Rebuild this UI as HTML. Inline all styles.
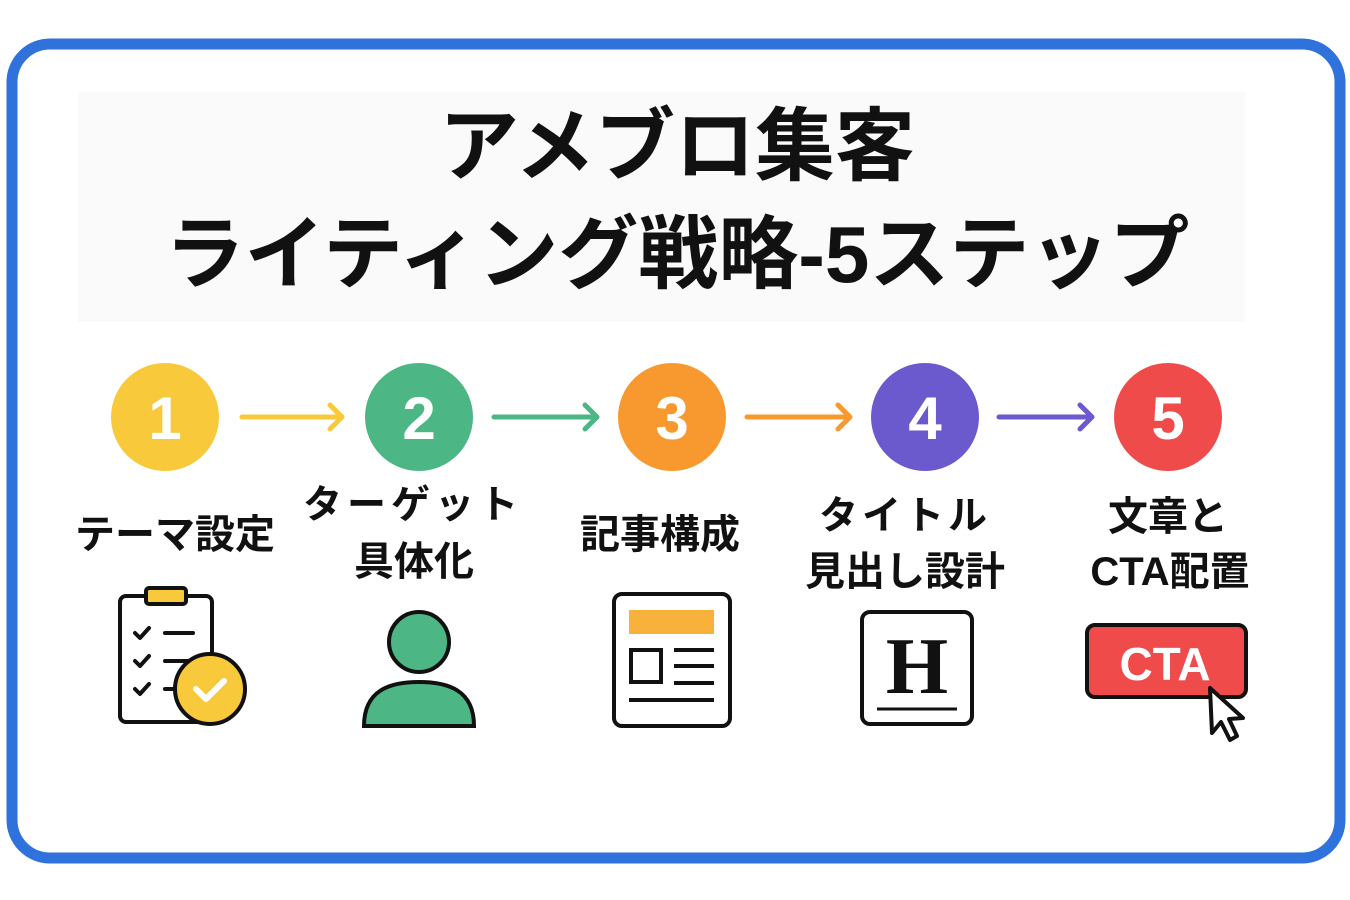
<!DOCTYPE html>
<html><head><meta charset="utf-8"><style>
body{margin:0;width:1350px;height:900px;background:#fff;overflow:hidden;position:relative;font-family:"Liberation Sans","Noto Sans CJK JP",sans-serif}
.t{position:absolute;font-weight:bold;color:#111;white-space:nowrap;transform:translate(-50%,-50%)}
</style></head><body>
<svg width="1350" height="900" style="position:absolute;left:0;top:0">
<rect x="12" y="44" width="1328" height="814" rx="38" fill="#fff" stroke="#2f72dc" stroke-width="11"/>
<rect x="78" y="92" width="1167" height="230" fill="#fafafa"/>
<g stroke-width="5" fill="none" stroke-linecap="round" stroke-linejoin="round">
<path d="M242 417H340M330 405L342 417L330 429" stroke="#f8c93a"/>
<path d="M494 417H595M585 405L597 417L585 429" stroke="#4cb784"/>
<path d="M747 417H848M838 405L850 417L838 429" stroke="#f8992f"/>
<path d="M999 417H1090M1080 405L1092 417L1080 429" stroke="#6a5acd"/>
</g>
<circle cx="165" cy="417" r="54" fill="#f8c93a"/>
<circle cx="419" cy="417" r="54" fill="#4cb784"/>
<circle cx="672" cy="417" r="54" fill="#f8992f"/>
<circle cx="925" cy="417" r="54" fill="#6a5acd"/>
<circle cx="1168" cy="417" r="54" fill="#f04b4b"/>
<g fill="#fff" font-family="Liberation Sans,sans-serif" font-weight="bold" font-size="60" text-anchor="middle">
<text x="165" y="439">1</text><text x="419" y="439">2</text><text x="672" y="439">3</text><text x="925" y="439">4</text><text x="1168" y="439">5</text>
</g>
<g stroke="#111" stroke-width="4" fill="none" stroke-linecap="round" stroke-linejoin="round">
<rect x="120" y="596" width="92" height="126" rx="6" fill="#fff"/>
<rect x="146" y="588" width="40" height="16" rx="3" fill="#f8c93a"/>
<path d="M135 633l5 5 9-10M165 633h28M135 661l5 5 9-10M165 661h28M135 689l5 5 9-10M165 689h10"/>
<circle cx="210" cy="689" r="35" fill="#f8c93a"/>
<path d="M196 689l10 10 18-18" stroke="#fff" stroke-width="6"/>
</g>
<g stroke="#111" stroke-width="4" fill="#4cb784">
<circle cx="419" cy="642" r="30"/>
<path d="M364 726 C364 690 390 682 419 682 C448 682 474 690 474 726Z"/>
</g>
<g stroke="#111" stroke-width="4" fill="none">
<rect x="614" y="594" width="116" height="132" rx="8" fill="#fff"/>
<rect x="629" y="610" width="85" height="24" fill="#f8b13a" stroke="none"/>
<rect x="631" y="650" width="30" height="32"/>
<path d="M674 650h40M674 666h40M674 683h40M629 700h85"/>
</g>
<rect x="862" y="612" width="110" height="112" rx="8" fill="#fff" stroke="#111" stroke-width="4"/>
<text x="917" y="693" text-anchor="middle" font-family="Liberation Serif,serif" font-weight="bold" font-size="80" fill="#111">H</text>
<path d="M877 709h80" stroke="#111" stroke-width="3"/>
<rect x="1087" y="625" width="159" height="72" rx="8" fill="#f04b4b" stroke="#111" stroke-width="4"/>
<text x="1165" y="680" text-anchor="middle" font-family="Liberation Sans,sans-serif" font-weight="bold" font-size="46" fill="#fff">CTA</text>
<path d="M1210 688 L1212 733 L1221 722 L1230 740 L1237 736 L1229 719 L1243 718 Z" fill="#fff" stroke="#111" stroke-width="4" stroke-linejoin="round"/>
</svg>
<div class="t" style="left:677px;top:140px;font-size:80px">アメブロ集客</div>
<div class="t" style="left:677px;top:248px;font-size:80px">ライティング戦略-5ステップ</div>
<div class="t" style="left:175px;top:531px;font-size:40px">テーマ設定</div>
<div class="t" style="left:413px;top:502px;font-size:39px;letter-spacing:5px">ターゲット</div>
<div class="t" style="left:414px;top:558px;font-size:40px">具体化</div>
<div class="t" style="left:660px;top:531px;font-size:40px">記事構成</div>
<div class="t" style="left:905px;top:513px;font-size:39px;letter-spacing:4px">タイトル</div>
<div class="t" style="left:905px;top:568px;font-size:40px">見出し設計</div>
<div class="t" style="left:1168px;top:513px;font-size:40px">文章と</div>
<div class="t" style="left:1170px;top:568px;font-size:40px">CTA配置</div>
</body></html>
